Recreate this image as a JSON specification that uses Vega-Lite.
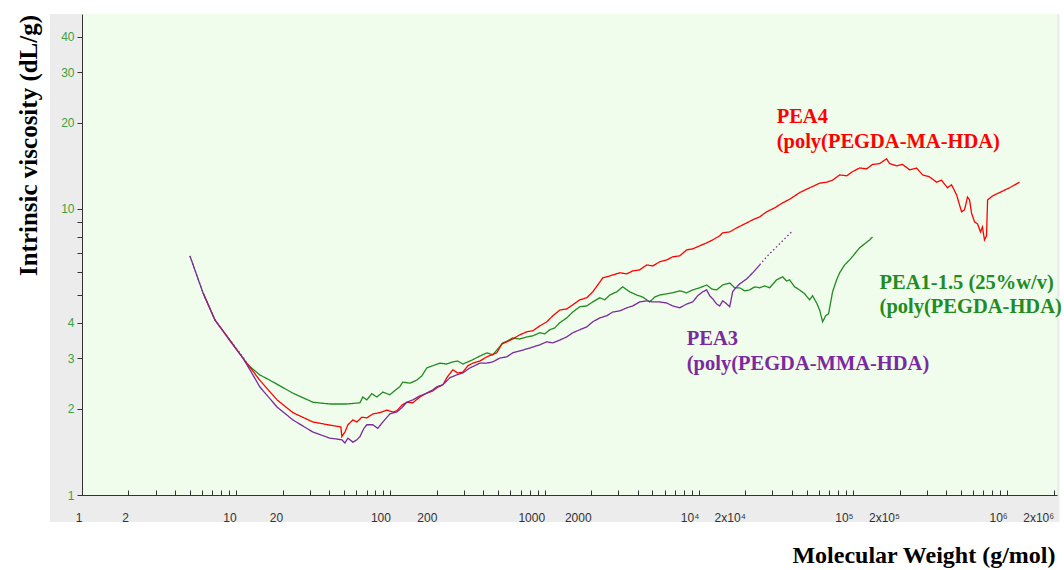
{
  "$schema": "https://vega.github.io/schema/vega-lite/v6.json",
  "width": 975,
  "height": 481,
  "autosize": {"type": "none"},
  "padding": {"left": 82, "top": 14, "right": 7, "bottom": 75},
  "background": "#ffffff",
  "config": {"view": {"stroke": null}},
  "datasets": {
    "curves": [
      {"series":"PEA1-1.5","sampling":"sparse","M":5.01,"eta":6.85},{"series":"PEA1-1.5","sampling":"sparse","M":6.09,"eta":5.09},{"series":"PEA1-1.5","sampling":"sparse","M":7.28,"eta":4.09},{"series":"PEA1-1.5","sampling":"sparse","M":9.1,"eta":3.48},{"series":"PEA1-1.5","sampling":"sparse","M":11.05,"eta":3.04},{"series":"PEA1-1.5","sampling":"sparse","M":11.9,"eta":2.85},
      {"series":"PEA1-1.5","sampling":"dense","M":11.9,"eta":2.85},{"series":"PEA1-1.5","sampling":"dense","M":14.2,"eta":2.63},{"series":"PEA1-1.5","sampling":"dense","M":16.5,"eta":2.52},{"series":"PEA1-1.5","sampling":"dense","M":23.3,"eta":2.27},{"series":"PEA1-1.5","sampling":"dense","M":31.4,"eta":2.11},{"series":"PEA1-1.5","sampling":"dense","M":40.5,"eta":2.08},{"series":"PEA1-1.5","sampling":"dense","M":52.2,"eta":2.08},{"series":"PEA1-1.5","sampling":"dense","M":63.4,"eta":2.1},{"series":"PEA1-1.5","sampling":"dense","M":66.2,"eta":2.2},{"series":"PEA1-1.5","sampling":"dense","M":70.3,"eta":2.15},{"series":"PEA1-1.5","sampling":"dense","M":75.8,"eta":2.26},{"series":"PEA1-1.5","sampling":"dense","M":81.6,"eta":2.2},{"series":"PEA1-1.5","sampling":"dense","M":89.3,"eta":2.29},{"series":"PEA1-1.5","sampling":"dense","M":99.1,"eta":2.24},{"series":"PEA1-1.5","sampling":"dense","M":108,"eta":2.33},{"series":"PEA1-1.5","sampling":"dense","M":115,"eta":2.39},{"series":"PEA1-1.5","sampling":"dense","M":120,"eta":2.48},{"series":"PEA1-1.5","sampling":"dense","M":134,"eta":2.46},{"series":"PEA1-1.5","sampling":"dense","M":148,"eta":2.52},{"series":"PEA1-1.5","sampling":"dense","M":160,"eta":2.61},{"series":"PEA1-1.5","sampling":"dense","M":172,"eta":2.78},{"series":"PEA1-1.5","sampling":"dense","M":188,"eta":2.83},{"series":"PEA1-1.5","sampling":"dense","M":209,"eta":2.89},{"series":"PEA1-1.5","sampling":"dense","M":232,"eta":2.87},{"series":"PEA1-1.5","sampling":"dense","M":254,"eta":2.92},{"series":"PEA1-1.5","sampling":"dense","M":273,"eta":2.94},{"series":"PEA1-1.5","sampling":"dense","M":295,"eta":2.87},{"series":"PEA1-1.5","sampling":"dense","M":318,"eta":2.92},{"series":"PEA1-1.5","sampling":"dense","M":342,"eta":2.97},{"series":"PEA1-1.5","sampling":"dense","M":380,"eta":3.06},{"series":"PEA1-1.5","sampling":"dense","M":422,"eta":3.14},{"series":"PEA1-1.5","sampling":"dense","M":461,"eta":3.09},{"series":"PEA1-1.5","sampling":"dense","M":497,"eta":3.24},{"series":"PEA1-1.5","sampling":"dense","M":535,"eta":3.4},{"series":"PEA1-1.5","sampling":"dense","M":577,"eta":3.46},{"series":"PEA1-1.5","sampling":"dense","M":621,"eta":3.54},{"series":"PEA1-1.5","sampling":"dense","M":690,"eta":3.51},{"series":"PEA1-1.5","sampling":"dense","M":766,"eta":3.57},{"series":"PEA1-1.5","sampling":"dense","M":838,"eta":3.6},{"series":"PEA1-1.5","sampling":"dense","M":930,"eta":3.69},{"series":"PEA1-1.5","sampling":"dense","M":1002,"eta":3.66},{"series":"PEA1-1.5","sampling":"dense","M":1079,"eta":3.78},{"series":"PEA1-1.5","sampling":"dense","M":1164,"eta":3.84},{"series":"PEA1-1.5","sampling":"dense","M":1253,"eta":4.0},{"series":"PEA1-1.5","sampling":"dense","M":1391,"eta":4.16},{"series":"PEA1-1.5","sampling":"dense","M":1521,"eta":4.36},{"series":"PEA1-1.5","sampling":"dense","M":1689,"eta":4.55},{"series":"PEA1-1.5","sampling":"dense","M":1874,"eta":4.58},{"series":"PEA1-1.5","sampling":"dense","M":2050,"eta":4.73},{"series":"PEA1-1.5","sampling":"dense","M":2275,"eta":4.89},{"series":"PEA1-1.5","sampling":"dense","M":2453,"eta":4.81},{"series":"PEA1-1.5","sampling":"dense","M":2642,"eta":5.0},{"series":"PEA1-1.5","sampling":"dense","M":2931,"eta":5.13},{"series":"PEA1-1.5","sampling":"dense","M":3206,"eta":5.34},{"series":"PEA1-1.5","sampling":"dense","M":3563,"eta":5.13},{"series":"PEA1-1.5","sampling":"dense","M":3954,"eta":5.0},{"series":"PEA1-1.5","sampling":"dense","M":4324,"eta":4.92},{"series":"PEA1-1.5","sampling":"dense","M":4798,"eta":4.73},{"series":"PEA1-1.5","sampling":"dense","M":5173,"eta":4.92},{"series":"PEA1-1.5","sampling":"dense","M":5571,"eta":5.0},{"series":"PEA1-1.5","sampling":"dense","M":6183,"eta":5.05},{"series":"PEA1-1.5","sampling":"dense","M":6761,"eta":5.09},{"series":"PEA1-1.5","sampling":"dense","M":7510,"eta":5.17},{"series":"PEA1-1.5","sampling":"dense","M":8333,"eta":5.09},{"series":"PEA1-1.5","sampling":"dense","M":9120,"eta":5.21},{"series":"PEA1-1.5","sampling":"dense","M":10120,"eta":5.3},{"series":"PEA1-1.5","sampling":"dense","M":11240,"eta":5.42},{"series":"PEA1-1.5","sampling":"dense","M":12110,"eta":5.25},{"series":"PEA1-1.5","sampling":"dense","M":13040,"eta":5.21},{"series":"PEA1-1.5","sampling":"dense","M":14270,"eta":5.42},{"series":"PEA1-1.5","sampling":"dense","M":15840,"eta":5.51},{"series":"PEA1-1.5","sampling":"dense","M":17060,"eta":5.3},{"series":"PEA1-1.5","sampling":"dense","M":18390,"eta":5.3},{"series":"PEA1-1.5","sampling":"dense","M":19820,"eta":5.17},{"series":"PEA1-1.5","sampling":"dense","M":21350,"eta":5.21},{"series":"PEA1-1.5","sampling":"dense","M":23010,"eta":5.34},{"series":"PEA1-1.5","sampling":"dense","M":24790,"eta":5.3},{"series":"PEA1-1.5","sampling":"dense","M":26710,"eta":5.38},{"series":"PEA1-1.5","sampling":"dense","M":28780,"eta":5.3},{"series":"PEA1-1.5","sampling":"dense","M":31940,"eta":5.65},{"series":"PEA1-1.5","sampling":"dense","M":34920,"eta":5.79},{"series":"PEA1-1.5","sampling":"dense","M":37060,"eta":5.6},{"series":"PEA1-1.5","sampling":"dense","M":38730,"eta":5.65},{"series":"PEA1-1.5","sampling":"dense","M":41760,"eta":5.34},{"series":"PEA1-1.5","sampling":"dense","M":44990,"eta":5.21},{"series":"PEA1-1.5","sampling":"dense","M":48510,"eta":5.05},{"series":"PEA1-1.5","sampling":"dense","M":52240,"eta":4.81},{"series":"PEA1-1.5","sampling":"dense","M":54600,"eta":4.97},{"series":"PEA1-1.5","sampling":"dense","M":58010,"eta":4.69},{"series":"PEA1-1.5","sampling":"dense","M":60700,"eta":4.43},{"series":"PEA1-1.5","sampling":"dense","M":63440,"eta":4.03},{"series":"PEA1-1.5","sampling":"dense","M":66370,"eta":4.23},{"series":"PEA1-1.5","sampling":"dense","M":69340,"eta":4.3},{"series":"PEA1-1.5","sampling":"dense","M":73620,"eta":5.13},{"series":"PEA1-1.5","sampling":"dense","M":78170,"eta":5.65},{"series":"PEA1-1.5","sampling":"dense","M":81840,"eta":5.98},{"series":"PEA1-1.5","sampling":"dense","M":88130,"eta":6.37},{"series":"PEA1-1.5","sampling":"dense","M":94900,"eta":6.63},{"series":"PEA1-1.5","sampling":"dense","M":102300,"eta":6.96},{"series":"PEA1-1.5","sampling":"dense","M":110200,"eta":7.31},{"series":"PEA1-1.5","sampling":"dense","M":118800,"eta":7.55},{"series":"PEA1-1.5","sampling":"dense","M":127900,"eta":7.79},{"series":"PEA1-1.5","sampling":"dense","M":133700,"eta":7.98},

      {"series":"PEA4","sampling":"dense","M":6.09,"eta":5.09},{"series":"PEA4","sampling":"dense","M":7.28,"eta":4.09},{"series":"PEA4","sampling":"dense","M":9.1,"eta":3.48},{"series":"PEA4","sampling":"dense","M":11.05,"eta":3.01},{"series":"PEA4","sampling":"dense","M":12.27,"eta":2.8},{"series":"PEA4","sampling":"dense","M":14.2,"eta":2.52},{"series":"PEA4","sampling":"dense","M":18.4,"eta":2.15},{"series":"PEA4","sampling":"dense","M":23.3,"eta":1.94},{"series":"PEA4","sampling":"dense","M":31.4,"eta":1.8},{"series":"PEA4","sampling":"dense","M":39.3,"eta":1.76},{"series":"PEA4","sampling":"dense","M":47.7,"eta":1.73},{"series":"PEA4","sampling":"dense","M":48.4,"eta":1.6},{"series":"PEA4","sampling":"dense","M":50.7,"eta":1.66},{"series":"PEA4","sampling":"dense","M":53.0,"eta":1.76},{"series":"PEA4","sampling":"dense","M":57.1,"eta":1.83},{"series":"PEA4","sampling":"dense","M":60.6,"eta":1.8},{"series":"PEA4","sampling":"dense","M":65.3,"eta":1.87},{"series":"PEA4","sampling":"dense","M":70.3,"eta":1.86},{"series":"PEA4","sampling":"dense","M":76.9,"eta":1.92},{"series":"PEA4","sampling":"dense","M":85.3,"eta":1.94},{"series":"PEA4","sampling":"dense","M":94.8,"eta":1.98},{"series":"PEA4","sampling":"dense","M":103.7,"eta":1.95},{"series":"PEA4","sampling":"dense","M":110,"eta":1.97},{"series":"PEA4","sampling":"dense","M":118.6,"eta":2.06},{"series":"PEA4","sampling":"dense","M":127.7,"eta":2.11},{"series":"PEA4","sampling":"dense","M":139.7,"eta":2.1},{"series":"PEA4","sampling":"dense","M":155,"eta":2.2},{"series":"PEA4","sampling":"dense","M":172,"eta":2.27},{"series":"PEA4","sampling":"dense","M":188,"eta":2.31},{"series":"PEA4","sampling":"dense","M":200,"eta":2.37},{"series":"PEA4","sampling":"dense","M":219,"eta":2.43},{"series":"PEA4","sampling":"dense","M":232,"eta":2.57},{"series":"PEA4","sampling":"dense","M":254,"eta":2.74},{"series":"PEA4","sampling":"dense","M":273,"eta":2.67},{"series":"PEA4","sampling":"dense","M":295,"eta":2.69},{"series":"PEA4","sampling":"dense","M":318,"eta":2.83},{"series":"PEA4","sampling":"dense","M":342,"eta":2.89},{"series":"PEA4","sampling":"dense","M":380,"eta":2.94},{"series":"PEA4","sampling":"dense","M":422,"eta":3.04},{"series":"PEA4","sampling":"dense","M":454,"eta":3.09},{"series":"PEA4","sampling":"dense","M":489,"eta":3.14},{"series":"PEA4","sampling":"dense","M":527,"eta":3.37},{"series":"PEA4","sampling":"dense","M":568,"eta":3.43},{"series":"PEA4","sampling":"dense","M":621,"eta":3.51},{"series":"PEA4","sampling":"dense","M":690,"eta":3.63},{"series":"PEA4","sampling":"dense","M":766,"eta":3.72},{"series":"PEA4","sampling":"dense","M":838,"eta":3.75},{"series":"PEA4","sampling":"dense","M":930,"eta":3.9},{"series":"PEA4","sampling":"dense","M":1032,"eta":4.03},{"series":"PEA4","sampling":"dense","M":1129,"eta":4.23},{"series":"PEA4","sampling":"dense","M":1253,"eta":4.43},{"series":"PEA4","sampling":"dense","M":1391,"eta":4.47},{"series":"PEA4","sampling":"dense","M":1521,"eta":4.62},{"series":"PEA4","sampling":"dense","M":1689,"eta":4.81},{"series":"PEA4","sampling":"dense","M":1874,"eta":4.89},{"series":"PEA4","sampling":"dense","M":2050,"eta":5.13},{"series":"PEA4","sampling":"dense","M":2208,"eta":5.42},{"series":"PEA4","sampling":"dense","M":2381,"eta":5.74},{"series":"PEA4","sampling":"dense","M":2642,"eta":5.83},{"series":"PEA4","sampling":"dense","M":3069,"eta":5.98},{"series":"PEA4","sampling":"dense","M":3404,"eta":5.93},{"series":"PEA4","sampling":"dense","M":3723,"eta":6.07},{"series":"PEA4","sampling":"dense","M":4131,"eta":6.12},{"series":"PEA4","sampling":"dense","M":4592,"eta":6.37},{"series":"PEA4","sampling":"dense","M":5020,"eta":6.32},{"series":"PEA4","sampling":"dense","M":5571,"eta":6.53},{"series":"PEA4","sampling":"dense","M":6183,"eta":6.63},{"series":"PEA4","sampling":"dense","M":6761,"eta":6.8},{"series":"PEA4","sampling":"dense","M":7510,"eta":6.85},{"series":"PEA4","sampling":"dense","M":8333,"eta":7.19},{"series":"PEA4","sampling":"dense","M":9120,"eta":7.25},{"series":"PEA4","sampling":"dense","M":10120,"eta":7.43},{"series":"PEA4","sampling":"dense","M":11240,"eta":7.61},{"series":"PEA4","sampling":"dense","M":12300,"eta":7.79},{"series":"PEA4","sampling":"dense","M":13640,"eta":8.05},{"series":"PEA4","sampling":"dense","M":14270,"eta":8.25},{"series":"PEA4","sampling":"dense","M":15840,"eta":8.31},{"series":"PEA4","sampling":"dense","M":17580,"eta":8.58},{"series":"PEA4","sampling":"dense","M":19820,"eta":8.86},{"series":"PEA4","sampling":"dense","M":22330,"eta":9.16},{"series":"PEA4","sampling":"dense","M":24790,"eta":9.38},{"series":"PEA4","sampling":"dense","M":27500,"eta":9.77},{"series":"PEA4","sampling":"dense","M":30970,"eta":10.08},{"series":"PEA4","sampling":"dense","M":34920,"eta":10.5},{"series":"PEA4","sampling":"dense","M":38730,"eta":10.8},{"series":"PEA4","sampling":"dense","M":44990,"eta":11.4},{"series":"PEA4","sampling":"dense","M":52240,"eta":11.85},{"series":"PEA4","sampling":"dense","M":60700,"eta":12.3},{"series":"PEA4","sampling":"dense","M":67300,"eta":12.4},{"series":"PEA4","sampling":"dense","M":73620,"eta":12.6},{"series":"PEA4","sampling":"dense","M":81840,"eta":13.15},{"series":"PEA4","sampling":"dense","M":90800,"eta":13.05},{"series":"PEA4","sampling":"dense","M":99300,"eta":13.5},{"series":"PEA4","sampling":"dense","M":110200,"eta":13.9},{"series":"PEA4","sampling":"dense","M":122300,"eta":13.8},{"series":"PEA4","sampling":"dense","M":133700,"eta":14.3},{"series":"PEA4","sampling":"dense","M":148500,"eta":14.4},{"series":"PEA4","sampling":"dense","M":164800,"eta":14.96},{"series":"PEA4","sampling":"dense","M":172500,"eta":14.4},{"series":"PEA4","sampling":"dense","M":191300,"eta":14.15},{"series":"PEA4","sampling":"dense","M":209400,"eta":14.3},{"series":"PEA4","sampling":"dense","M":232400,"eta":13.7},{"series":"PEA4","sampling":"dense","M":257900,"eta":13.9},{"series":"PEA4","sampling":"dense","M":282100,"eta":13.15},{"series":"PEA4","sampling":"dense","M":313100,"eta":12.94},{"series":"PEA4","sampling":"dense","M":347400,"eta":12.4},{"series":"PEA4","sampling":"dense","M":374300,"eta":12.6},{"series":"PEA4","sampling":"dense","M":409500,"eta":11.85},{"series":"PEA4","sampling":"dense","M":434700,"eta":12.14},{"series":"PEA4","sampling":"dense","M":468800,"eta":11.2},{"series":"PEA4","sampling":"dense","M":490000,"eta":10.33},{"series":"PEA4","sampling":"dense","M":505000,"eta":9.77},{"series":"PEA4","sampling":"dense","M":528000,"eta":9.93},{"series":"PEA4","sampling":"dense","M":552000,"eta":11.0},{"series":"PEA4","sampling":"dense","M":569000,"eta":10.75},{"series":"PEA4","sampling":"dense","M":586000,"eta":9.68},{"series":"PEA4","sampling":"dense","M":613000,"eta":9.01},{"series":"PEA4","sampling":"dense","M":641000,"eta":8.86},{"series":"PEA4","sampling":"dense","M":670000,"eta":8.31},{"series":"PEA4","sampling":"dense","M":690000,"eta":8.65},{"series":"PEA4","sampling":"dense","M":711000,"eta":7.79},{"series":"PEA4","sampling":"dense","M":733000,"eta":8.05},{"series":"PEA4","sampling":"dense","M":745000,"eta":10.75},{"series":"PEA4","sampling":"dense","M":802000,"eta":11.1},{"series":"PEA4","sampling":"dense","M":889000,"eta":11.4},{"series":"PEA4","sampling":"dense","M":1033000,"eta":11.85},{"series":"PEA4","sampling":"dense","M":1200000,"eta":12.4},

      {"series":"PEA3","sampling":"dense","M":5.01,"eta":6.85},{"series":"PEA3","sampling":"dense","M":6.09,"eta":5.09},{"series":"PEA3","sampling":"dense","M":7.28,"eta":4.09},{"series":"PEA3","sampling":"dense","M":9.1,"eta":3.46},{"series":"PEA3","sampling":"dense","M":11.05,"eta":3.01},{"series":"PEA3","sampling":"dense","M":12.27,"eta":2.74},{"series":"PEA3","sampling":"dense","M":14.2,"eta":2.39},{"series":"PEA3","sampling":"dense","M":18.4,"eta":2.03},{"series":"PEA3","sampling":"dense","M":23.3,"eta":1.83},{"series":"PEA3","sampling":"dense","M":31.4,"eta":1.66},{"series":"PEA3","sampling":"dense","M":40.5,"eta":1.58},{"series":"PEA3","sampling":"dense","M":48.4,"eta":1.56},{"series":"PEA3","sampling":"dense","M":50.7,"eta":1.52},{"series":"PEA3","sampling":"dense","M":53.0,"eta":1.58},{"series":"PEA3","sampling":"dense","M":57.1,"eta":1.53},{"series":"PEA3","sampling":"dense","M":60.6,"eta":1.56},{"series":"PEA3","sampling":"dense","M":63.4,"eta":1.6},{"series":"PEA3","sampling":"dense","M":67.3,"eta":1.71},{"series":"PEA3","sampling":"dense","M":70.3,"eta":1.76},{"series":"PEA3","sampling":"dense","M":76.9,"eta":1.76},{"series":"PEA3","sampling":"dense","M":82.8,"eta":1.71},{"series":"PEA3","sampling":"dense","M":89.3,"eta":1.8},{"series":"PEA3","sampling":"dense","M":99.1,"eta":1.92},{"series":"PEA3","sampling":"dense","M":110,"eta":1.95},{"series":"PEA3","sampling":"dense","M":118.6,"eta":2.02},{"series":"PEA3","sampling":"dense","M":127.7,"eta":2.11},{"series":"PEA3","sampling":"dense","M":139.7,"eta":2.15},{"series":"PEA3","sampling":"dense","M":155,"eta":2.22},{"series":"PEA3","sampling":"dense","M":172,"eta":2.27},{"series":"PEA3","sampling":"dense","M":188,"eta":2.33},{"series":"PEA3","sampling":"dense","M":200,"eta":2.39},{"series":"PEA3","sampling":"dense","M":219,"eta":2.43},{"series":"PEA3","sampling":"dense","M":243,"eta":2.57},{"series":"PEA3","sampling":"dense","M":269,"eta":2.63},{"series":"PEA3","sampling":"dense","M":295,"eta":2.67},{"series":"PEA3","sampling":"dense","M":327,"eta":2.78},{"series":"PEA3","sampling":"dense","M":352,"eta":2.83},{"series":"PEA3","sampling":"dense","M":380,"eta":2.89},{"series":"PEA3","sampling":"dense","M":422,"eta":2.89},{"series":"PEA3","sampling":"dense","M":461,"eta":2.92},{"series":"PEA3","sampling":"dense","M":512,"eta":3.01},{"series":"PEA3","sampling":"dense","M":568,"eta":3.04},{"series":"PEA3","sampling":"dense","M":621,"eta":3.14},{"series":"PEA3","sampling":"dense","M":690,"eta":3.19},{"series":"PEA3","sampling":"dense","M":766,"eta":3.24},{"series":"PEA3","sampling":"dense","M":838,"eta":3.29},{"series":"PEA3","sampling":"dense","M":930,"eta":3.35},{"series":"PEA3","sampling":"dense","M":1032,"eta":3.43},{"series":"PEA3","sampling":"dense","M":1129,"eta":3.4},{"series":"PEA3","sampling":"dense","M":1253,"eta":3.48},{"series":"PEA3","sampling":"dense","M":1391,"eta":3.57},{"series":"PEA3","sampling":"dense","M":1521,"eta":3.69},{"series":"PEA3","sampling":"dense","M":1689,"eta":3.78},{"series":"PEA3","sampling":"dense","M":1874,"eta":3.87},{"series":"PEA3","sampling":"dense","M":2050,"eta":4.03},{"series":"PEA3","sampling":"dense","M":2275,"eta":4.16},{"series":"PEA3","sampling":"dense","M":2525,"eta":4.23},{"series":"PEA3","sampling":"dense","M":2762,"eta":4.36},{"series":"PEA3","sampling":"dense","M":3069,"eta":4.4},{"series":"PEA3","sampling":"dense","M":3404,"eta":4.51},{"series":"PEA3","sampling":"dense","M":3723,"eta":4.58},{"series":"PEA3","sampling":"dense","M":4131,"eta":4.73},{"series":"PEA3","sampling":"dense","M":4592,"eta":4.77},{"series":"PEA3","sampling":"dense","M":5020,"eta":4.73},{"series":"PEA3","sampling":"dense","M":5571,"eta":4.73},{"series":"PEA3","sampling":"dense","M":6183,"eta":4.69},{"series":"PEA3","sampling":"dense","M":6761,"eta":4.58},{"series":"PEA3","sampling":"dense","M":7510,"eta":4.51},{"series":"PEA3","sampling":"dense","M":8333,"eta":4.65},{"series":"PEA3","sampling":"dense","M":9120,"eta":4.73},{"series":"PEA3","sampling":"dense","M":9820,"eta":4.97},{"series":"PEA3","sampling":"dense","M":10590,"eta":5.13},{"series":"PEA3","sampling":"dense","M":11240,"eta":5.21},{"series":"PEA3","sampling":"dense","M":11750,"eta":4.97},{"series":"PEA3","sampling":"dense","M":12300,"eta":4.85},{"series":"PEA3","sampling":"dense","M":13040,"eta":4.65},{"series":"PEA3","sampling":"dense","M":13640,"eta":4.58},{"series":"PEA3","sampling":"dense","M":14270,"eta":4.77},{"series":"PEA3","sampling":"dense","M":14920,"eta":4.69},{"series":"PEA3","sampling":"dense","M":15840,"eta":4.55},{"series":"PEA3","sampling":"dense","M":16560,"eta":5.13},{"series":"PEA3","sampling":"dense","M":17060,"eta":5.25},{"series":"PEA3","sampling":"dense","M":18390,"eta":5.47},{"series":"PEA3","sampling":"dense","M":20400,"eta":5.69},{"series":"PEA3","sampling":"dense","M":22330,"eta":5.98},{"series":"PEA3","sampling":"dense","M":24790,"eta":6.37},
      {"series":"PEA3","sampling":"sparse","M":24790,"eta":6.37},{"series":"PEA3","sampling":"sparse","M":27500,"eta":6.8},{"series":"PEA3","sampling":"sparse","M":30970,"eta":7.25},{"series":"PEA3","sampling":"sparse","M":35970,"eta":7.86},{"series":"PEA3","sampling":"sparse","M":39940,"eta":8.31}
    ],
    "labels": [
      {"series":"PEA4","text":"PEA4","M":31940,"eta":19.98},
      {"series":"PEA4","text":"(poly(PEGDA-MA-HDA)","M":31940,"eta":16.35},
      {"series":"PEA1-1.5","text":"PEA1-1.5 (25%w/v)","M":148500,"eta":5.25},
      {"series":"PEA1-1.5","text":"(poly(PEGDA-HDA)","M":148500,"eta":4.33},
      {"series":"PEA3","text":"PEA3","M":8340,"eta":3.35},
      {"series":"PEA3","text":"(poly(PEGDA-MMA-HDA)","M":8340,"eta":2.74}
    ]
  },
  "layer": [
    {
      "data": {"values": [{"panel": "frame"}]},
      "mark": {"type": "rect", "color": "#ececec"},
      "encoding": {
        "x": {"datum": 0.62, "type": "quantitative", "scale": {"type": "log", "domain": [1, 2100000], "nice": false}},
        "x2": {"datum": 2180000},
        "y": {"datum": 0.804, "type": "quantitative", "scale": {"type": "log", "domain": [1, 48], "nice": false}},
        "y2": {"datum": 48}
      }
    },
    {
      "data": {"values": [{"panel": "plot"}]},
      "mark": {"type": "rect", "color": "#f0fcec"},
      "encoding": {
        "x": {"datum": 1, "type": "quantitative"},
        "x2": {"datum": 2100000},
        "y": {"datum": 1, "type": "quantitative"},
        "y2": {"datum": 48}
      }
    },
    {
      "data": {"name": "curves"},
      "mark": {"type": "line", "strokeWidth": 1.3, "interpolate": "linear"},
      "encoding": {
        "x": {
          "field": "M", "type": "quantitative",
          "axis": {
            "title": "Molecular Weight (g/mol)",
            "titleFont": "Liberation Serif", "titleFontWeight": "bold", "titleFontSize": 24, "titleColor": "#000000",
            "titleAnchor": "end", "titleAlign": "right", "titleX": 973, "titleY": 60, "titleBaseline": "middle",
            "values": [1,2,3,4,5,6,7,8,9,10,20,30,40,50,60,70,80,90,100,200,300,400,500,600,700,800,900,1000,2000,3000,4000,5000,6000,7000,8000,9000,10000,20000,30000,40000,50000,60000,70000,80000,90000,100000,200000,300000,400000,500000,600000,700000,800000,900000,1000000,2000000],
            "labelExpr": "datum.value==10000?'10⁴':datum.value==20000?'2x10⁴':datum.value==100000?'10⁵':datum.value==200000?'2x10⁵':datum.value==1000000?'10⁶':datum.value==2000000?'2x10⁶':(indexof([1,2,10,20,100,200,1000,2000],datum.value)>=0?''+datum.value:'')",
            "labelFont": "Liberation Sans", "labelFontSize": 12, "labelColor": "#333333", "labelAlign": "right",
            "labelOverlap": false, "labelBound": false, "labelFlush": false,
            "tickSize": -5, "tickColor": "#333333", "domainColor": "#333333", "labelPadding": 22,
            "grid": false, "zindex": 2
          }
        },
        "y": {
          "field": "eta", "type": "quantitative",
          "axis": {
            "title": "Intrinsic viscosity (dL/g)",
            "titleFont": "Liberation Serif", "titleFontWeight": "bold", "titleFontSize": 25, "titleColor": "#000000",
            "titleAngle": -90, "titleAlign": "center", "titleBaseline": "middle", "titleX": -54, "titleY": 131,
            "values": [1,2,3,4,5,6,7,8,9,10,20,30,40],
            "labelExpr": "indexof([1,2,3,4,10,20,30,40],datum.value)>=0?''+datum.value:''",
            "labelFont": "Liberation Sans", "labelFontSize": 12, "labelColor": "#3f9f3f",
            "labelOverlap": false, "labelBound": false, "labelFlush": false,
            "tickSize": 5, "tickColor": "#333333", "domainColor": "#333333", "labelPadding": 3,
            "grid": false, "zindex": 2
          }
        },
        "color": {
          "field": "series", "type": "nominal", "legend": null,
          "scale": {"domain": ["PEA1-1.5", "PEA4", "PEA3"], "range": ["#228b22", "#ff0000", "#7a2a9e"]}
        },
        "strokeDash": {
          "field": "sampling", "type": "nominal", "legend": null,
          "scale": {"domain": ["dense", "sparse"], "range": [[1, 0], [1.5, 2.5]]}
        },
        "order": {"field": "M", "type": "quantitative"}
      }
    },
    {
      "data": {"name": "labels"},
      "mark": {"type": "text", "align": "left", "baseline": "alphabetic", "font": "Liberation Serif", "fontWeight": "bold", "fontSize": 20.5},
      "encoding": {
        "x": {"field": "M", "type": "quantitative"},
        "y": {"field": "eta", "type": "quantitative"},
        "text": {"field": "text"},
        "color": {"field": "series", "type": "nominal", "legend": null}
      }
    }
  ]
}
